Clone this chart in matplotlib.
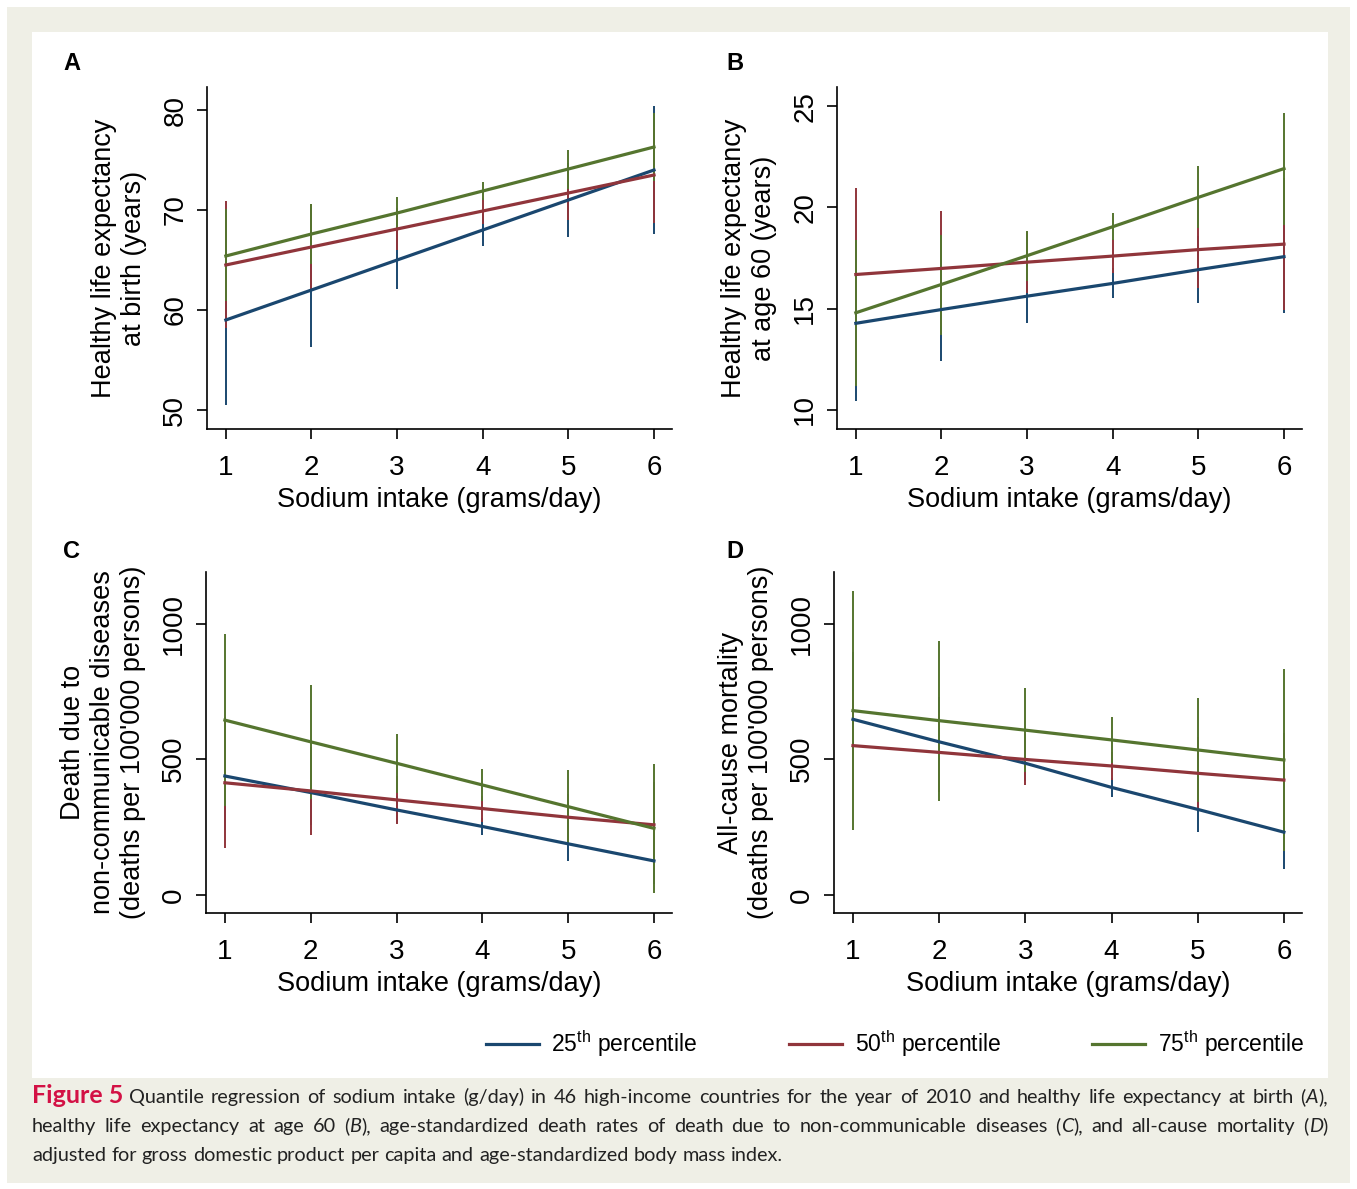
""" sodium_quantile.py
Quantile regression predictions of health outcomes vs sodium intake (Figure 5). """

import re
import matplotlib
matplotlib.use('Agg')
import matplotlib.pyplot as plt
from matplotlib.patches import Rectangle

W, H = 1357, 1189

plt.rcParams['font.family'] = ['Liberation Sans', 'DejaVu Sans']
plt.rcParams['mathtext.fontset'] = 'custom'
plt.rcParams['mathtext.rm'] = 'Liberation Sans'

sodium = [1, 2, 3, 4, 5, 6]
series_labels = ['25$^{\\mathrm{th}}$ percentile', '50$^{\\mathrm{th}}$ percentile',
                 '75$^{\\mathrm{th}}$ percentile']
colors = ['#1a476f', '#90353b', '#55752f']

# rows: 25th, 50th, 75th percentile
est_A = [[59.0, 62.0, 65.0, 68.0, 71.0, 74.0],
         [64.5, 66.3, 68.1, 69.9, 71.7, 73.5],
         [65.4, 67.6, 69.7, 71.9, 74.1, 76.3]]
lo_A = [[50.5, 56.3, 62.1, 66.4, 67.3, 67.6],
        [58.2, 62.0, 66.0, 68.6, 69.0, 68.7],
        [60.9, 64.6, 68.1, 71.0, 72.1, 72.9]]
hi_A = [[67.5, 67.7, 67.9, 69.6, 74.7, 80.4],
        [70.9, 70.6, 70.2, 71.2, 74.4, 78.3],
        [70.1, 70.6, 71.3, 72.8, 76.0, 79.7]]

est_B = [[14.28, 14.96, 15.62, 16.25, 16.93, 17.57],
         [16.69, 16.99, 17.30, 17.60, 17.92, 18.19],
         [14.80, 16.20, 17.62, 19.05, 20.50, 21.92]]
lo_B = [[10.46, 12.43, 14.28, 15.51, 15.30, 14.77],
        [12.44, 14.14, 15.79, 16.78, 16.00, 14.93],
        [11.20, 13.72, 16.39, 18.39, 18.99, 19.15]]
hi_B = [[18.10, 17.50, 16.90, 17.00, 18.60, 20.40],
        [20.94, 19.84, 18.80, 18.46, 19.86, 21.45],
        [18.39, 18.63, 18.85, 19.75, 22.07, 24.69]]

est_C = [[438, 377, 313, 252, 188, 125],
         [413, 383, 350, 318, 286, 258],
         [644, 564, 485, 405, 325, 245]]
lo_C = [[238, 257, 263, 221, 123, 40],
        [172, 221, 261, 270, 200, 100],
        [328, 353, 377, 346, 190, 8]]
hi_C = [[638, 497, 363, 283, 253, 210],
        [654, 545, 439, 366, 372, 416],
        [960, 775, 593, 464, 460, 482]]

est_D = [[647, 564, 485, 396, 315, 231],
         [550, 525, 499, 475, 448, 423],
         [679, 642, 607, 571, 534, 497]]
lo_D = [[400, 400, 420, 362, 233, 94],
        [350, 380, 405, 423, 313, 250],
        [239, 347, 453, 486, 342, 162]]
hi_D = [[894, 728, 550, 430, 397, 368],
        [750, 670, 593, 527, 583, 596],
        [1119, 937, 761, 656, 726, 832]]

ylabels = ['Healthy life expectancy\nat birth (years)',
           'Healthy life expectancy\nat age 60 (years)',
           "Death due to\nnon-communicable diseases\n(deaths per 100'000 persons)",
           "All-cause mortality\n(deaths per 100'000 persons)"]
yticks_all = [[50, 60, 70, 80], [10, 15, 20, 25], [0, 500, 1000], [0, 500, 1000]]

caption_lines = [
    ' Quantile regression of sodium intake (g/day) in 46 high-income countries for the year of 2010 and healthy life expectancy at birth (_A_),',
    'healthy life expectancy at age 60 (_B_), age-standardized death rates of death due to non-communicable diseases (_C_), and all-cause mortality (_D_)',
    'adjusted for gross domestic product per capita and age-standardized body mass index.',
]


def px_box(l, t, r, b):
    return [l / W, 1 - b / H, (r - l) / W, (b - t) / H]


def draw_panel(ax, est, lo, hi, ylim, yticks, ylabel):
    for k in range(3):
        ax.vlines(sodium, lo[k], hi[k], color=colors[k], lw=1.4)
    for k in range(3):
        ax.plot(sodium, est[k], color=colors[k], lw=2.3, label=series_labels[k])
    ax.set_xlim(0.78, 6.21)
    ax.set_ylim(*ylim)
    ax.set_xticks(sodium)
    ax.set_yticks(yticks)
    for s in ['top', 'right']:
        ax.spines[s].set_visible(False)
    for s in ['left', 'bottom']:
        ax.spines[s].set_linewidth(1.2)
    ax.tick_params(length=7.5, width=1.2, labelsize=20, pad=6)
    ax.tick_params(axis='x', pad=11)
    ax.tick_params(axis='y', labelrotation=90)
    for t in ax.get_yticklabels():
        t.set_va('center')
    ax.set_xlabel('Sodium intake (grams/day)', fontsize=19.5, labelpad=4.5)
    ax.set_ylabel(ylabel, fontsize=19.5, labelpad=11, linespacing=1.2)


fig = plt.figure(figsize=(W / 100, H / 100), dpi=100, facecolor='white')
fig.patches.append(Rectangle((7 / W, 6 / H), 1 - 14 / W, 1 - 13 / H,
                             transform=fig.transFigure, facecolor='#efefe6',
                             edgecolor='none', zorder=-2))
fig.patches.append(Rectangle((32 / W, 1 - 1078 / H), 1296 / W, 1046 / H,
                             transform=fig.transFigure, facecolor='white',
                             edgecolor='none', zorder=-1))

boxes = [px_box(207, 87, 672, 429), px_box(837, 87, 1302, 429),
         px_box(206, 572, 672, 913), px_box(834, 572, 1302, 913)]
letter_pos = [(72, 63), (735, 63), (72, 552), (735, 552)]
panels = [(est_A, lo_A, hi_A, (48.1, 82.3)),
          (est_B, lo_B, hi_B, (9.06, 25.95)),
          (est_C, lo_C, hi_C, (-67, 1190)),
          (est_D, lo_D, hi_D, (-67, 1190))]
axes = []
for i, (est, lo, hi, ylim) in enumerate(panels):
    ax = fig.add_axes(boxes[i])
    ax.patch.set_alpha(0)
    draw_panel(ax, est, lo, hi, ylim, yticks_all[i], ylabels[i])
    lx, ly = letter_pos[i]
    fig.text(lx / W, 1 - ly / H, 'ABCD'[i], fontsize=17, fontweight='bold',
             ha='center', va='center')
    axes.append(ax)

handles, labels = axes[0].get_legend_handles_labels()
fig.legend(handles, labels, loc='center', bbox_to_anchor=(895 / W, 1 - 1044 / H),
           ncol=3, frameon=False, fontsize=16.5, handlelength=2.3,
           handletextpad=0.55, columnspacing=4.0)


# Caption, justified like the journal layout
def make_words(line):
    words = []
    for w in line.split(' '):
        if not w:
            continue
        segs = []
        for j, part in enumerate(re.split(r'_', w)):
            if part:
                segs.append((part, 'italic' if j % 2 else 'normal'))
        words.append(segs)
    return words


cap_font = ['Lato', 'DejaVu Sans']
cap_size = 14.3
renderer = fig.canvas.get_renderer()
x_left, x_right = 32, 1328
baselines = [1103, 1132, 1161]

head = fig.text(x_left / W, 1 - baselines[0] / H, 'Figure 5', family=cap_font,
                fontsize=18, fontweight='bold', color='#d31145',
                va='baseline')
head_w = head.get_window_extent(renderer).width

sp = fig.text(0, 0, 'a a', family=cap_font, fontsize=cap_size)
sp2 = fig.text(0, 0, 'aa', family=cap_font, fontsize=cap_size)
space_w = sp.get_window_extent(renderer).width - sp2.get_window_extent(renderer).width
sp.remove()
sp2.remove()

for li, line in enumerate(caption_lines):
    words = make_words(line)
    start = x_left + (head_w + space_w if li == 0 else 0)
    objs, widths = [], []
    for segs in words:
        wobjs, ww = [], 0
        for txt, style in segs:
            t = fig.text(0, 1 - baselines[li] / H, txt, family=cap_font,
                         fontsize=cap_size, fontstyle=style, color='#222222',
                         va='baseline')
            w = t.get_window_extent(renderer).width
            wobjs.append((t, w))
            ww += w
        objs.append(wobjs)
        widths.append(ww)
    if li < len(caption_lines) - 1:
        gap = (x_right - start - sum(widths)) / (len(words) - 1)
    else:
        gap = space_w
    x = start
    for wobjs, ww in zip(objs, widths):
        xx = x
        for t, w in wobjs:
            t.set_x(xx / W)
            xx += w
        x += ww + gap

fig.savefig('out.png', dpi=100, facecolor=fig.get_facecolor())
